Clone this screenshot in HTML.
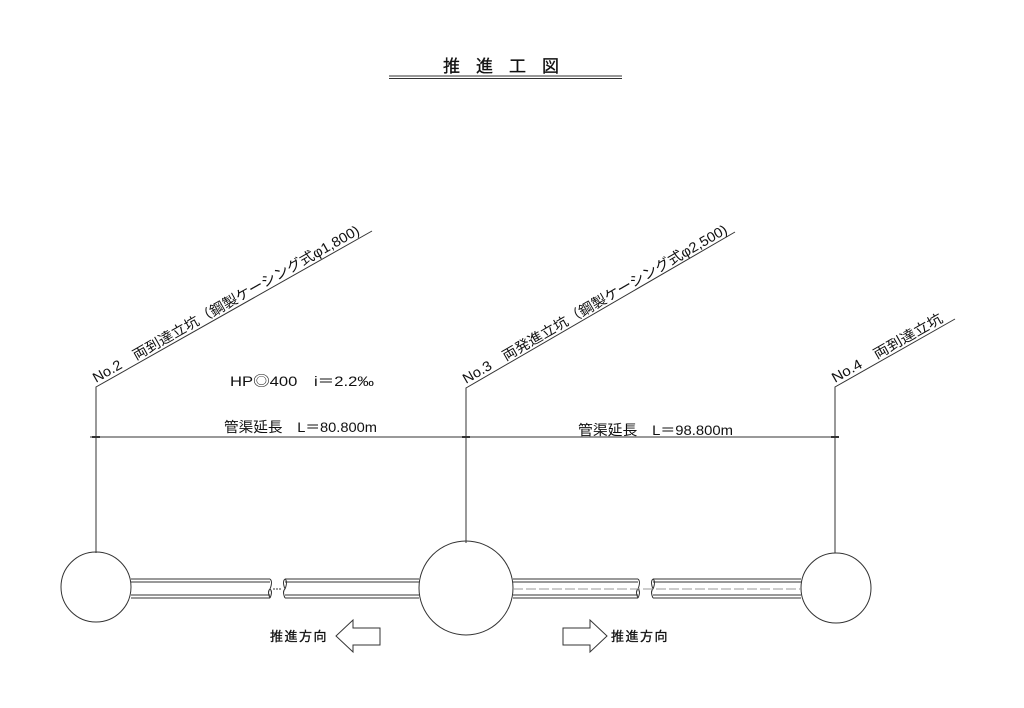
<!DOCTYPE html>
<html><head><meta charset="utf-8"><style>
html,body{margin:0;padding:0;background:#fff;}
svg{display:block;}
text{font-family:"Liberation Sans","Noto Sans CJK JP",sans-serif;fill:#111;}
</style></head><body>
<svg width="1024" height="708" viewBox="0 0 1024 708" xmlns="http://www.w3.org/2000/svg">
<g stroke="#333" stroke-width="1" fill="none">
<line x1="389" y1="76" x2="622" y2="76"/>
<line x1="389" y1="78.5" x2="622" y2="78.5"/>
<polyline points="96,553 96,387 372,231"/>
<polyline points="466,543 466,388 735,232"/>
<polyline points="835,553 835,387 955,319"/>
<line x1="90" y1="437" x2="836" y2="437"/>
<line x1="92" y1="437" x2="100" y2="437" stroke-width="2"/>
<line x1="462" y1="437" x2="470" y2="437" stroke-width="2"/>
<line x1="831" y1="437" x2="839" y2="437" stroke-width="2"/>
<circle cx="96" cy="587" r="35"/>
<circle cx="466" cy="588" r="47"/>
<circle cx="836" cy="588" r="35"/>
<g>
<line x1="131" y1="579" x2="270" y2="579"/><line x1="131" y1="582" x2="270" y2="582"/>
<line x1="131" y1="595" x2="270" y2="595"/><line x1="131" y1="598" x2="270" y2="598"/>
<path d="M270,579 q3,2.5 0,10 M270,589 q-3,2.5 0,9 M270,589 q3,2.5 0,9"/>
<line x1="285" y1="579" x2="419" y2="579"/><line x1="285" y1="582" x2="419" y2="582"/>
<line x1="285" y1="595" x2="419" y2="595"/><line x1="285" y1="598" x2="419" y2="598"/>
<path d="M285,579 q-3,2.5 0,10 M285,579 q3,2.5 0,10 M285,589 q-3,2.5 0,9"/>
<line x1="273" y1="589" x2="282" y2="589" stroke-dasharray="2,1"/>
</g>
<g>
<line x1="513" y1="579" x2="638" y2="579"/><line x1="513" y1="582" x2="638" y2="582"/>
<line x1="513" y1="595" x2="638" y2="595"/><line x1="513" y1="598" x2="638" y2="598"/>
<path d="M638,579 q3,2.5 0,10 M638,589 q-3,2.5 0,9 M638,589 q3,2.5 0,9"/>
<line x1="653" y1="579" x2="801" y2="579"/><line x1="653" y1="582" x2="801" y2="582"/>
<line x1="653" y1="595" x2="801" y2="595"/><line x1="653" y1="598" x2="801" y2="598"/>
<path d="M653,579 q-3,2.5 0,10 M653,579 q3,2.5 0,10 M653,589 q-3,2.5 0,9"/>
<line x1="513" y1="589" x2="801" y2="589" stroke-dasharray="10,3" stroke="#999"/>
</g>
<polygon points="336,636 353,620 353,628 380,628 380,645 353,645 353,652"/>
<polygon points="607,636 590,620 590,628 563,628 563,645 590,645 590,652"/>
</g>
<text x="443" y="72" font-size="17" letter-spacing="16" stroke="#111" stroke-width="0.3">推進工図</text>
<text font-size="14" x="230" y="386" textLength="144" lengthAdjust="spacingAndGlyphs">HP◎400　i＝2.2‰</text>
<text font-size="14" x="224" y="432" textLength="153" lengthAdjust="spacingAndGlyphs">管渠延長　L＝80.800m</text>
<text font-size="14" x="578" y="435" textLength="155" lengthAdjust="spacingAndGlyphs">管渠延長　L＝98.800m</text>
<text font-size="13" x="270" y="641" letter-spacing="1.5" stroke="#111" stroke-width="0.3">推進方向</text>
<text font-size="13" x="611" y="641" letter-spacing="1.5" stroke="#111" stroke-width="0.3">推進方向</text>
<text font-size="14" transform="translate(96,383) rotate(-29.5)" textLength="304" lengthAdjust="spacingAndGlyphs">No.2　両到達立坑（鋼製ケーシング式φ1,800)</text>
<text font-size="14" transform="translate(466,384) rotate(-30)" textLength="303" lengthAdjust="spacingAndGlyphs">No.3　両発進立坑（鋼製ケーシング式φ2,500)</text>
<text font-size="14" transform="translate(835,383) rotate(-29.5)" textLength="125" lengthAdjust="spacingAndGlyphs">No.4　両到達立坑</text>
</svg>
</body></html>
